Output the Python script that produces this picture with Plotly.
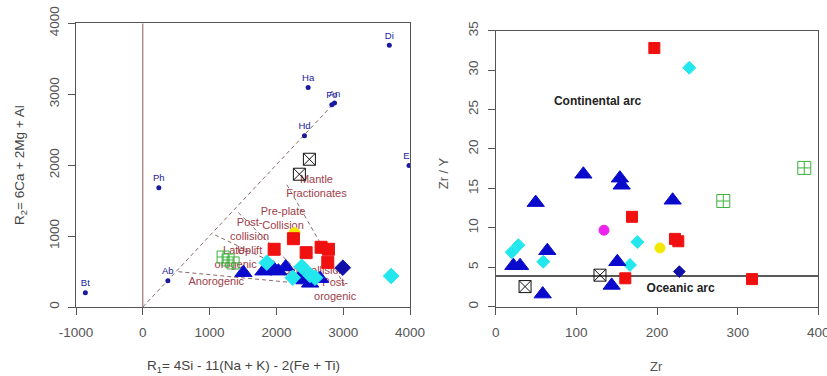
import plotly.graph_objects as go

W, H = 827, 376
FONT = "Liberation Sans, Arial, sans-serif"

# ---------------- Left plot (R1-R2) data ----------------
min_names = ["Bt", "Ab", "Ph", "Ha", "Fo", "An", "Hd", "Di", "En"]
min_r1 = [-860, 375, 240, 2475, 2830, 2870, 2420, 3690, 3985]
min_r2 = [200, 370, 1680, 3095, 2850, 2875, 2415, 3690, 1995]

field_names = ["Mantle<br>Fractionates", "Pre-plate<br>Collision", "Post-<br>collision<br>Uplift",
               "Late-<br>orogenic", "Anorogenic", "Syn-collision", "Post-<br>orogenic"]
field_r1 = [2600, 2100, 1600, 1390, 1100, 2560, 2880]
field_r2 = [1690, 1240, 985, 690, 345, 510, 235]

bound_r1 = [[0, 2860], [2156, 3030], [1431, 2260], [1082, 2350], [533, 2400]]
bound_r2 = [[0, 2870], [1725, 290], [1330, 560], [1015, 450], [498, 330]]

L_red_r1 = [1966, 2255, 2445, 2669, 2779, 2769]
L_red_r2 = [814, 963, 766, 842, 814, 630]
L_yel_r1 = [2270]
L_yel_r2 = [1040]
L_grn_r1 = [1202, 1277, 1352]
L_grn_r2 = [705, 663, 621]
L_blk_r1 = [2494, 2344]
L_blk_r2 = [2083, 1872]
L_tri_r1 = [1506, 1806, 1880, 1955, 2030, 2140, 2355, 2420, 2505, 2654]
L_tri_r2 = [484, 505, 520, 546, 505, 565, 427, 380, 334, 400]
L_cyan_r1 = [1856, 2380, 2245, 2504, 2579, 3717]
L_cyan_r2 = [625, 568, 413, 451, 413, 437]
L_dk_r1 = [2994]
L_dk_r2 = [554]

x1_ticks = [-1000, 0, 1000, 2000, 3000, 4000]
x1_labels = ["-1000", "0", "1000", "2000", "3000", "4000"]
y1_ticks = [0, 1000, 2000, 3000, 4000]

# ---------------- Right plot (Zr vs Zr/Y) data ----------------
R_red_zr = [196.7, 169, 222.3, 226.4, 160.7, 317.8]
R_red_zy = [32.8, 11.4, 8.6, 8.3, 3.6, 3.5]
R_cyan_zr = [240, 19.8, 28.1, 59, 175.6, 166.5]
R_cyan_zy = [30.3, 6.9, 7.8, 5.7, 8.2, 5.3]
R_tri_zr = [108.7, 154, 156.2, 219.4, 49.6, 64, 21.9, 30.2, 150.8, 143.8, 58.3]
R_tri_zy = [16.8, 16.3, 15.4, 13.5, 13.2, 7.1, 5.2, 5.2, 5.7, 2.7, 1.6]
R_dk_zr = [227.7]
R_dk_zy = [4.45]
R_mag_zr = [134.3]
R_mag_zy = [9.7]
R_yel_zr = [203.7]
R_yel_zy = [7.45]
R_grn_zr = [282.2, 382.6]
R_grn_zy = [13.4, 17.6]
R_blk_zr = [36.4, 129.3]
R_blk_zy = [2.55, 4.0]
arc_line_zy = 3.9

x2_ticks = [0, 100, 200, 300, 400]
y2_ticks = [0, 5, 10, 15, 20, 25, 30, 35]

RED = "#f01010"
BLUE = "#0a0acd"
CYAN = "#22e8ee"
DKBLUE = "#1010a8"
GREEN = "#3db33d"
FIELD = "#a04048"
MINB = "#1a1aa0"

fig = go.Figure()

def add(x, y, sym, color, size, xa="x", ya="y", lw=1):
    fig.add_trace(go.Scatter(x=x, y=y, mode="markers", xaxis=xa, yaxis=ya,
                             marker=dict(symbol=sym, color=color, size=size,
                                         line=dict(width=lw, color=color)),
                             showlegend=False, hoverinfo="skip"))

# left: x=0 vertical line
fig.add_trace(go.Scatter(x=[0, 0], y=[0, 4000], mode="lines", line=dict(color="#8a5a5a", width=1),
                         showlegend=False, hoverinfo="skip"))
for bx, by in zip(bound_r1, bound_r2):
    fig.add_trace(go.Scatter(x=bx, y=by, mode="lines", line=dict(color="#8a6a6a", width=1, dash="4px,3px"),
                             showlegend=False, hoverinfo="skip"))

fig.add_trace(go.Scatter(x=field_r1, y=field_r2, mode="text", text=field_names,
                         textfont=dict(family=FONT, size=11, color=FIELD),
                         showlegend=False, hoverinfo="skip"))

add(L_yel_r1, L_yel_r2, "circle", "#f5e800", 11)
add(L_red_r1, L_red_r2, "square", RED, 12)
add(L_grn_r1, L_grn_r2, "square-cross-open", GREEN, 12)
add(L_blk_r1, L_blk_r2, "square-x-open", "#111111", 12)
add(L_tri_r1, L_tri_r2, "triangle-up", BLUE, 15)
add(L_cyan_r1, L_cyan_r2, "diamond", CYAN, 12)
add(L_dk_r1, L_dk_r2, "diamond", DKBLUE, 12)

fig.add_trace(go.Scatter(x=min_r1, y=min_r2, mode="markers+text", text=min_names,
                         textposition="top center",
                         textfont=dict(family=FONT, size=9.5, color=MINB),
                         marker=dict(symbol="circle", color=MINB, size=5),
                         showlegend=False, hoverinfo="skip"))

# right plot
fig.add_trace(go.Scatter(x=[0, 400], y=[arc_line_zy, arc_line_zy], mode="lines", xaxis="x2", yaxis="y2",
                         line=dict(color="#222222", width=1.5), showlegend=False, hoverinfo="skip"))
add(R_red_zr, R_red_zy, "square", RED, 11, "x2", "y2")
add(R_cyan_zr, R_cyan_zy, "diamond", CYAN, 10, "x2", "y2")
add(R_tri_zr, R_tri_zy, "triangle-up", BLUE, 15, "x2", "y2")
add(R_dk_zr, R_dk_zy, "diamond", DKBLUE, 9, "x2", "y2")
add(R_mag_zr, R_mag_zy, "circle", "#ee22ee", 10, "x2", "y2")
add(R_yel_zr, R_yel_zy, "circle", "#f5e800", 10, "x2", "y2")
add(R_grn_zr, R_grn_zy, "square-cross-open", GREEN, 13, "x2", "y2")
add(R_blk_zr, R_blk_zy, "square-x-open", "#111111", 12, "x2", "y2")

fig.add_trace(go.Scatter(x=[126.4, 229.3], y=[26.0, 2.28], mode="text", xaxis="x2", yaxis="y2",
                         text=["<b>Continental arc</b>", "<b>Oceanic arc</b>"],
                         textfont=dict(family=FONT, size=12, color="#222222"),
                         showlegend=False, hoverinfo="skip"))

def px_x(p):
    return p / W

def px_y(p):
    return (H - p) / H

axis_common = dict(showgrid=False, zeroline=False, showline=True, mirror=True, automargin=False,
                   linecolor="#555555", linewidth=1, ticks="outside", ticklen=7,
                   ticklabeloverflow="allow",
                   tickcolor="#555555", tickfont=dict(family=FONT, size=13.5, color="#555555"))

fig.update_layout(
    width=W, height=H, margin=dict(l=0, r=0, t=0, b=0),
    paper_bgcolor="white", plot_bgcolor="white",
    xaxis=dict(domain=[px_x(76), px_x(410)], range=[-1000, 4000], anchor="y",
               tickvals=x1_ticks, ticktext=x1_labels, ticklabelstandoff=6, **axis_common),
    yaxis=dict(domain=[px_y(307), px_y(23.3)], range=[0, 4000], anchor="x",
               tickvals=y1_ticks, tickangle=-90, ticklabelstandoff=4, **axis_common),
    xaxis2=dict(domain=[px_x(495.7), px_x(818.3)], range=[0, 400], anchor="y2",
                tickvals=x2_ticks, ticklabelstandoff=6, **axis_common),
    yaxis2=dict(domain=[px_y(306.7), px_y(30.7)], range=[0, 35], anchor="x2",
                tickvals=y2_ticks, tickangle=-90, ticklabelstandoff=4, **axis_common),
    annotations=[
        dict(text="R<sub>1</sub>= 4Si - 11(Na + K) - 2(Fe + Ti)", x=px_x(243.3), y=px_y(366),
             xref="paper", yref="paper", showarrow=False, xanchor="center", yanchor="middle",
             font=dict(family=FONT, size=13.5, color="#444444")),
        dict(text="R<sub>2</sub>= 6Ca + 2Mg + Al", x=px_x(20), y=px_y(165),
             xref="paper", yref="paper", showarrow=False, xanchor="center", yanchor="middle",
             textangle=-90, font=dict(family=FONT, size=13.5, color="#444444")),
        dict(text="Zr", x=px_x(656.7), y=px_y(366),
             xref="paper", yref="paper", showarrow=False, xanchor="center", yanchor="middle",
             font=dict(family=FONT, size=13, color="#555555")),
        dict(text="Zr / Y", x=px_x(443.3), y=px_y(173),
             xref="paper", yref="paper", showarrow=False, xanchor="center", yanchor="middle",
             textangle=-90, font=dict(family=FONT, size=13, color="#555555")),
    ],
)

fig.write_html("out.html")
